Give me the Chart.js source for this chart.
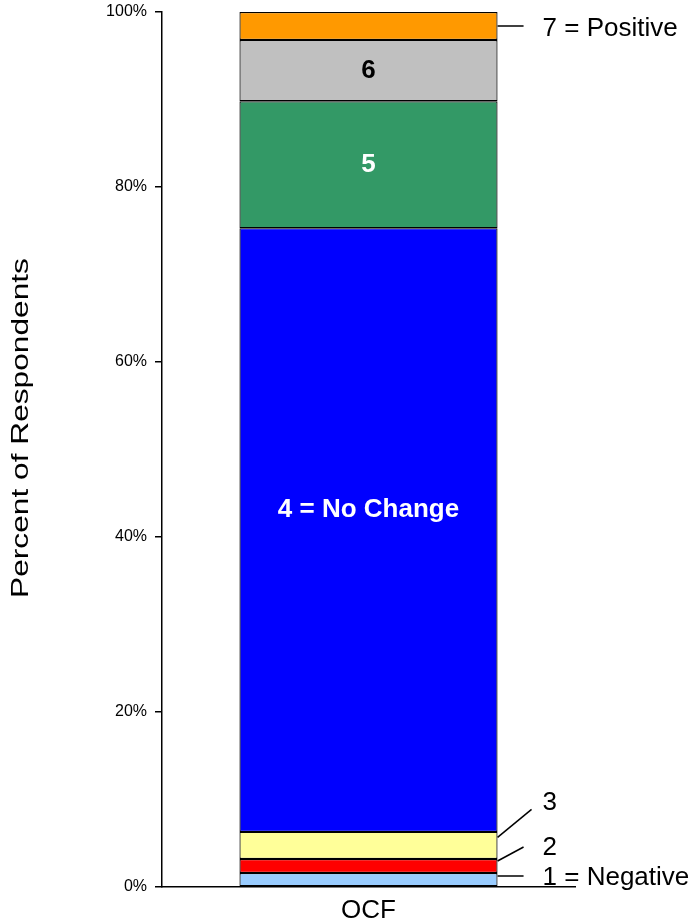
<!DOCTYPE html>
<html>
<head>
<meta charset="utf-8">
<script src="https://cdn.jsdelivr.net/npm/chart.js@4"></script>
<style>
  html, body { margin: 0; padding: 0; background: #fff; }
  #wrap { width: 690px; height: 923px; position: relative; }
</style>
</head>
<body>
<div id="wrap"><canvas id="bar_cnt"></canvas></div>
<script>
// data (percent of respondents)
const categories = ['OCF'];
const seriesNames = ['1 = Negative', '2', '3', '4 = No Change', '5', '6', '7 = Positive'];
const seriesValues = [1.6, 1.6, 3.1, 69.0, 14.5, 7.0, 3.2];
const seriesColors = ['#99CCFF', '#FF0000', '#FFFF99', '#0000FF', '#339966', '#C0C0C0', '#FF9900'];
const yTicks = [0, 20, 40, 60, 80, 100];

// labels drawn inside the bar: [series index, text colour]
const insideLabels = [[3, '#fff'], [4, '#fff'], [5, '#000']];
const insideText = { 3: '4 = No Change', 4: '5', 5: '6' };

Chart.defaults.font.family = 'Arial, "Liberation Sans", sans-serif';
Chart.defaults.color = '#000';

const datasets = seriesNames.map((name, i) => ({
    label: name,
    data: [seriesValues[i]],
    backgroundColor: seriesColors[i],
    borderColor: '#000',
    borderWidth: 1.2,
    borderSkipped: false,
    barPercentage: 0.625,
    categoryPercentage: 1
}));

// cumulative bounds of segment i
function segBounds(i) {
    let lo = 0;
    for (let k = 0; k < i; k++) lo += seriesValues[k];
    return [lo, lo + seriesValues[i]];
}

const labelPlugin = {
    id: 'segLabels',
    afterDatasetsDraw(chart) {
        const ctx = chart.ctx;
        const y = chart.scales.y;
        const bar = chart.getDatasetMeta(0).data[0];
        const right = bar.x + bar.width / 2;
        const mid = i => { const b = segBounds(i); return y.getPixelForValue((b[0] + b[1]) / 2); };

        ctx.save();
        // inside labels
        ctx.font = 'bold 26px Arial, "Liberation Sans", sans-serif';
        ctx.textAlign = 'center';
        ctx.textBaseline = 'middle';
        insideLabels.forEach(([i, col]) => {
            ctx.fillStyle = col;
            let py = mid(i);
            if (i === 3) py = y.getPixelForValue(43.1); // excel put it above centre
            ctx.fillText(insideText[i], bar.x, py);
        });

        // leader lines + outside labels
        ctx.strokeStyle = '#000';
        ctx.lineWidth = 1.5;
        ctx.fillStyle = '#000';
        ctx.font = '26px Arial, "Liberation Sans", sans-serif';
        ctx.textAlign = 'left';
        const leaders = [
            // [series, startDy, endDx, endDy, textDx, textDy]
            [6, 0, 26, 0, 45, 3],
            [0, -4, 26, -4, 45, -2],
            [1, -5, 26, -19, 45, -18],
            [2, -8, 34, -36, 45, -43]
        ];
        leaders.forEach(([i, sdy, edx, edy, tdx, tdy]) => {
            const m = mid(i);
            ctx.beginPath();
            ctx.moveTo(right, m + sdy);
            ctx.lineTo(right + edx, m + edy);
            ctx.stroke();
            ctx.fillText(seriesNames[i], right + tdx, m + tdy);
        });

        // y axis title (squeezed like the original)
        ctx.translate(28, 428);
        ctx.rotate(-Math.PI / 2);
        ctx.scale(1.32, 1);
        ctx.font = '24px Arial, "Liberation Sans", sans-serif';
        ctx.textAlign = 'center';
        ctx.textBaseline = 'alphabetic';
        ctx.fillText('Percent of Respondents', 0, 0);
        ctx.restore();
    }
};

new Chart(document.getElementById('bar_cnt'), {
    type: 'bar',
    data: { labels: categories, datasets: datasets },
    options: {
        responsive: true,
        maintainAspectRatio: false,
        animation: false,
        layout: { padding: { top: 12, right: 115, left: 0, bottom: 0 } },
        plugins: { legend: { display: false }, tooltip: { enabled: false } },
        scales: {
            x: {
                stacked: true,
                grid: { display: false, drawTicks: false },
                border: { display: true, color: '#000', width: 1.5 },
                ticks: { font: { size: 26 }, padding: 8 },
                afterFit(s) { s.height = 36; }
            },
            y: {
                stacked: true,
                min: 0,
                max: 100,
                afterBuildTicks(s) { s.ticks = yTicks.map(v => ({ value: v })); },
                grid: { drawOnChartArea: false, drawTicks: true, tickLength: 7, color: '#000', lineWidth: 1.5 },
                border: { display: true, color: '#000', width: 1.5 },
                ticks: { font: { size: 16 }, padding: 8, callback: v => v + '%' },
                afterFit(s) { s.width = 162; s.paddingTop = 0; s.paddingBottom = 0; }
            }
        }
    },
    plugins: [labelPlugin]
});
</script>
</body>
</html>
